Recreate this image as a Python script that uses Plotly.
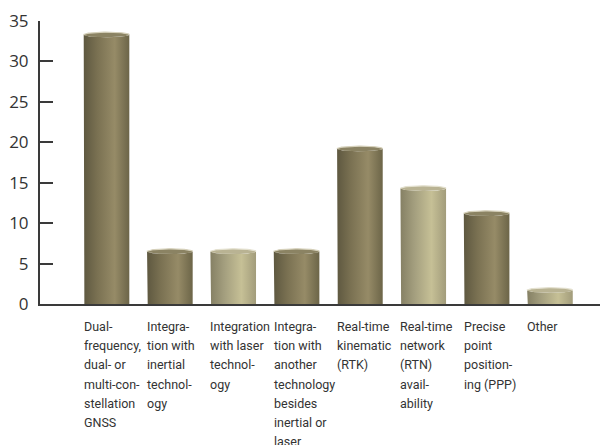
import numpy as np
import plotly.graph_objects as go

# Survey results: share of respondents per positioning technique
categories = [
    ["Dual-", "frequency,", "dual- or", "multi-con-", "stellation", "GNSS"],
    ["Integra-", "tion with", "inertial", "technol-", "ogy"],
    ["Integration", "with laser", "technol-", "ogy"],
    ["Integra-", "tion with", "another", "technology", "besides", "inertial or", "laser"],
    ["Real-time", "kinematic", "(RTK)"],
    ["Real-time", "network", "(RTN)", "avail-", "ability"],
    ["Precise", "point", "position-", "ing (PPP)"],
    ["Other"],
]
values = [33.3, 6.5, 6.5, 6.5, 19.2, 14.3, 11.2, 1.7]
shade = ["dark", "dark", "light", "dark", "dark", "light", "dark", "light"]
y_ticks = [0, 5, 10, 15, 20, 25, 30, 35]

# cylinder styling
BAR_W = 0.72        # width in category units
CAP_RY = 0.32       # half height of the elliptical caps in value units
palettes = {
    "dark": dict(body=[[0, "#5e5840"], [0.3, "#7a7152"], [0.68, "#968b67"], [1, "#6c6548"]],
                 cap="#8b8363", rim="#d6d1bb"),
    "light": dict(body=[[0, "#858064"], [0.3, "#a39e7e"], [0.68, "#c6c096"], [1, "#a29c7b"]],
                  cap="#b9b393", rim="#e4e1d0"),
}
LABEL_FONT = dict(family="Roboto", size=12.5, color="#333333")
LINE_STEP = 19.2    # px between label lines
FIRST_LINE = -22.5  # px from the x axis to the middle of the first label line

fig = go.Figure()
t = np.linspace(0, np.pi, 40)

for i, (v, s) in enumerate(zip(values, shade)):
    pal = palettes[s]
    xl, xr = i - BAR_W / 2, i + BAR_W / 2
    cx, rx = float(i), BAR_W / 2
    # body: left side down, front half of bottom ellipse, right side up, front half of top ellipse
    bx = np.cos(np.pi - t) * rx + cx           # left -> right
    by_bottom = -np.sin(t) * CAP_RY
    tx = np.cos(t) * rx + cx                   # right -> left
    ty_top = v - np.sin(t) * CAP_RY
    xs = np.concatenate([[xl], bx, [xr], tx])
    ys = np.concatenate([[v], by_bottom, [v], ty_top])
    fig.add_trace(go.Scatter(
        x=xs, y=ys, mode="lines", fill="toself",
        line=dict(width=0, color="rgba(0,0,0,0)"),
        fillgradient=dict(type="horizontal", colorscale=pal["body"]),
        hoverinfo="skip", showlegend=False, cliponaxis=False,
    ))
    # top cap
    a = np.linspace(0, 2 * np.pi, 80)
    fig.add_trace(go.Scatter(
        x=np.cos(a) * rx + cx, y=v + np.sin(a) * CAP_RY,
        mode="lines", fill="toself", fillcolor=pal["cap"],
        line=dict(width=0, color="rgba(0,0,0,0)"),
        hoverinfo="skip", showlegend=False, cliponaxis=False,
    ))
    # light rim along the back edge of the cap
    fig.add_trace(go.Scatter(
        x=np.cos(t) * rx + cx, y=v + np.sin(t) * CAP_RY,
        mode="lines", line=dict(width=1.2, color=pal["rim"]),
        hoverinfo="skip", showlegend=False, cliponaxis=False,
    ))
    # category label, left-aligned under the bar, one line at a time
    for k, line in enumerate(categories[i]):
        fig.add_annotation(
            x=xl, y=0, xref="x", yref="y", xanchor="left", yanchor="middle",
            xshift=-2, yshift=FIRST_LINE - LINE_STEP * k, text=line,
            showarrow=False, align="left", font=LABEL_FONT,
        )

fig.update_layout(
    width=604, height=445,
    margin=dict(l=40, r=4, t=21, b=141),
    paper_bgcolor="white", plot_bgcolor="white",
    xaxis=dict(range=[-1.05, 7.79], showgrid=False, zeroline=False,
               showticklabels=False, ticks="", showline=True,
               linecolor="#3a3a3a", linewidth=2, layer="below traces"),
    yaxis=dict(range=[0, 35], tickvals=y_ticks, showgrid=False, zeroline=False,
               showline=True, linecolor="#3a3a3a", linewidth=2,
               ticks="inside", ticklen=13, tickwidth=2, tickcolor="#3a3a3a",
               ticklabelstandoff=6,
               tickfont=dict(family="Open Sans", size=17, color="#333333")),
)

fig.write_html("out.html")
